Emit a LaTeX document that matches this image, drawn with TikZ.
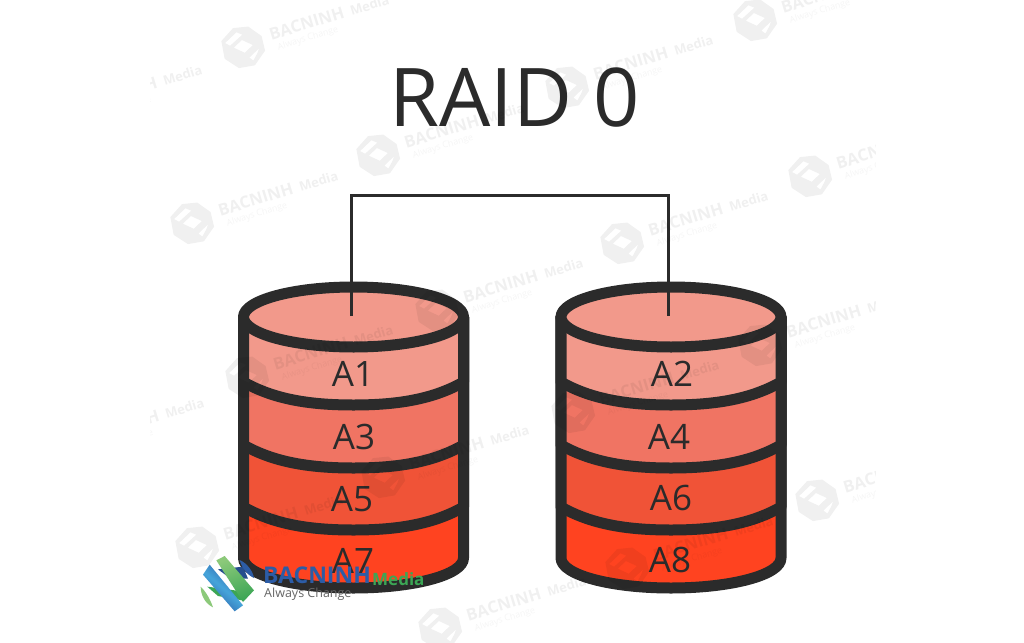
\documentclass[tikz,border=0pt]{standalone}
\usepackage{fontspec}
\setmainfont{Open Sans}
\usetikzlibrary{calc}
\definecolor{ink}{HTML}{2B2B2B}
\definecolor{bandA}{HTML}{F2998B}
\definecolor{bandB}{HTML}{F07463}
\definecolor{bandC}{HTML}{F05337}
\definecolor{bandD}{HTML}{FF4320}
\definecolor{logoBlue}{HTML}{2C5CA6}
\definecolor{logoSky}{HTML}{46A5DA}
\definecolor{logoGreen}{HTML}{3CA655}
\definecolor{logoLime}{HTML}{8CC97A}
\newcommand{\fs}[1]{\fontsize{#1}{#1}\selectfont}
\tikzset{
  x=1pt,y=-1pt,
  disk/.style={draw=ink,line width=11pt,line join=round},
  link/.style={draw=ink,line width=3pt,line join=miter},
  disklabel/.style={text=ink,inner sep=0pt,font=\fs{35}},
  wmark/.style={text=black,text opacity=.06,inner sep=0pt,transform shape},
}
\newcommand{\bandpath}[3]{% cx, arc start y, colour
  \path[disk,fill=#3] (#1-110,317) -- (#1-110,#2)
    .. controls (#1-80,#2+17) and (#1-45,#2+23) .. (#1,#2+23)
    .. controls (#1+45,#2+23) and (#1+80,#2+17) .. (#1+110,#2)
    -- (#1+110,317) -- cycle;}
\newcommand{\cylinder}[1]{%
  \path[disk,fill=bandD] (#1-110,317) -- (#1-110,558)
    .. controls (#1-110,575) and (#1-60,588) .. (#1,588)
    .. controls (#1+60,588) and (#1+110,575) .. (#1+110,558)
    -- (#1+110,317) -- cycle;
  \bandpath{#1}{507}{bandC}
  \bandpath{#1}{445}{bandB}
  \bandpath{#1}{382}{bandA}
  \path[disk,fill=bandA] (#1,317) ellipse[x radius=110,y radius=30];}
\newcommand{\wm}[3]{% id, x, y
  \begin{scope}[shift={(#2,#3)},rotate=17]
    \fill[black,opacity=.06,even odd rule]
      (-19,-12) -- (-4,-21) -- (11,-18) -- (21,-5) -- (20,10) -- (6,21) -- (-10,19) -- (-21,6) -- cycle
      (-9,-2) -- (1,-7) -- (10,1) -- (0,6) -- cycle
      (-16,-9) -- (-2,-16) -- (3,-12) -- (-12,-5) -- cycle
      (3,12) -- (15,6) -- (12,10) -- (6,16) -- cycle;
    \node[wmark,anchor=west,font=\bfseries\fs{16.5}] (wmN#1) at (29,-4) {BACNINH};
    \node[wmark,anchor=west,font=\bfseries\fs{13}] (wmM#1) at (113,-3) {Media};
    \node[wmark,anchor=west,font=\fs{9},text opacity=.04] (wmC#1) at (33,11) {Always Change};
  \end{scope}}
\begin{document}
\begin{tikzpicture}
\useasboundingbox (0,0) rectangle (1024,642);
\fill[white] (0,0) rectangle (1024,642);
\node[inner sep=0pt,text=ink,font=\fs{81}] (title) at (514.5,98) {RAID 0};
\cylinder{353.5}
\cylinder{671}
\coordinate (leftTop) at (351,316);
\coordinate (rightTop) at (668,316);
\coordinate (leftBend) at (351,195);
\coordinate (rightBend) at (668,195);
\draw[link] (leftTop) -- (leftBend) -- (rightBend) -- (rightTop);
\node[disklabel] (a1) at (353,374) {A1};
\node[disklabel] (a3) at (354,437) {A3};
\node[disklabel] (a5) at (352,499) {A5};
\node[disklabel] (a7) at (353,561) {A7};
\node[disklabel] (a2) at (672,374) {A2};
\node[disklabel] (a4) at (669,437) {A4};
\node[disklabel] (a6) at (671,498) {A6};
\node[disklabel] (a8) at (670,560) {A8};
\begin{scope}
  \clip (150,0) rectangle (875,642);
  \foreach \i/\px/\py in {1/243/47,2/378/155,3/192/223,4/755/20,5/810/176,6/817/500,7/573/412,8/760/345,9/627/568,10/247/377,11/383/477,12/197/547,13/437/310,14/567/87,15/622/243,16/440/628,17/56/117,18/58/450}{
    \wm{\i}{\px}{\py}
  }
\end{scope}
% coloured logo
\begin{scope}[shift={(198,552)},scale=1/3]
  \fill[logoBlue!85!black] (60,52) -- (135,44) -- (150,80) -- (95,78) -- cycle;
  \fill[logoBlue] (125,24) .. controls (150,35) and (165,60) .. (168,78) .. controls (150,70) and (132,50) .. cycle;
  \fill[logoGreen] (28,104) -- (132,118) -- (138,146) -- (60,132) -- cycle;
  \fill[logoLime] (8,104) .. controls (25,120) and (38,145) .. (45,166) .. controls (22,155) and (8,130) .. cycle;
  \shade[left color=logoLime,right color=logoGreen,shading angle=20] (55,25) -- (80,12) -- (168,115) -- (135,150) -- cycle;
  \shade[top color=logoBlue,bottom color=logoBlue,middle color=logoSky,shading angle=-40] (15,68) -- (35,38) -- (135,160) -- (110,178) -- cycle;
\end{scope}
\node[inner sep=0pt,anchor=west,text=logoBlue,font=\bfseries\fs{23}] (logoName) at (263,575) {BACNINH};
\node[inner sep=0pt,anchor=west,text=logoGreen,font=\bfseries\fs{17}] (logoMedia) at (372,579) {Media};
\node[inner sep=0pt,anchor=west,text=black!60,font=\fs{12.5}] (logoTag) at (264,594) {Always Change};
\end{tikzpicture}
\end{document}
